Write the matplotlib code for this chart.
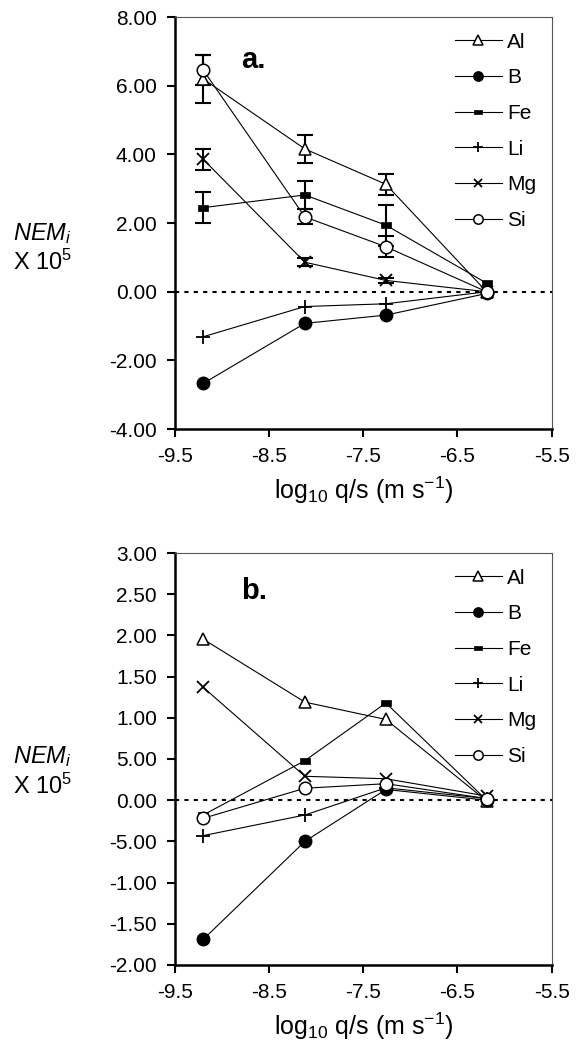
import numpy as np
import matplotlib
matplotlib.use("Agg")
import matplotlib.pyplot as plt

plt.rcParams['font.family'] = ['Liberation Sans', 'DejaVu Sans']
plt.rcParams['font.size'] = 15
plt.rcParams['mathtext.fontset'] = 'custom'
plt.rcParams['mathtext.rm'] = 'Liberation Sans'
plt.rcParams['mathtext.it'] = 'Liberation Sans:italic'

# x positions (log10 q/s)
x = [-9.2, -8.12, -7.26, -6.19]
elements = ['Al', 'B', 'Fe', 'Li', 'Mg', 'Si']

# panel a: NEM_i x 10^5
a_vals = {
    'Al': [6.20, 4.16, 3.13, 0.00],
    'B':  [-2.67, -0.92, -0.68, -0.05],
    'Fe': [2.45, 2.82, 1.94, 0.25],
    'Li': [-1.31, -0.43, -0.35, 0.00],
    'Mg': [3.86, 0.86, 0.33, 0.00],
    'Si': [6.46, 2.18, 1.31, 0.00],
}
# error bars for panel a (first three points)
a_err = {
    'Al': [0.70, 0.42, 0.30],
    'Fe': [0.45, 0.40, 0.60],
    'Mg': [0.30, 0.12, 0.08],
    'Si': [0.45, 0.22, 0.30],
}

# panel b
b_vals = {
    'Al': [1.955, 1.19, 0.98, -0.01],
    'B':  [-1.69, -0.50, 0.13, 0.00],
    'Fe': [-0.18, 0.48, 1.18, 0.00],
    'Li': [-0.43, -0.18, 0.15, 0.02],
    'Mg': [1.37, 0.29, 0.26, 0.05],
    'Si': [-0.22, 0.145, 0.20, 0.02],
}

a_yticks = [8, 6, 4, 2, 0, -2, -4]
a_yticklabels = ['8.00', '6.00', '4.00', '2.00', '0.00', '-2.00', '-4.00']
b_yticks = [3, 2.5, 2, 1.5, 1, 0.5, 0, -0.5, -1, -1.5, -2]
b_yticklabels = ['3.00', '2.50', '2.00', '1.50', '1.00', '5.00', '0.00',
                 '-5.00', '-1.00', '-1.50', '-2.00']
xticks = [-9.5, -8.5, -7.5, -6.5, -5.5]
xticklabels = ['-9.5', '-8.5', '-7.5', '-6.5', '-5.5']

# marker for Fe: small filled rectangle
fe_marker = [(-1, -0.55), (1, -0.55), (1, 0.55), (-1, 0.55), (-1, -0.55)]
styles = {
    'Al': dict(marker='^', mfc='white', ms=9, mew=1.1),
    'B':  dict(marker='o', mfc='black', ms=9, mew=1.0),
    'Fe': dict(marker=fe_marker, mfc='black', ms=7.5, mew=0.5),
    'Li': dict(marker='+', mfc='black', ms=10, mew=1.3),
    'Mg': dict(marker='x', mfc='black', ms=8.5, mew=1.3),
    'Si': dict(marker='o', mfc='white', ms=9, mew=1.1),
}

fig = plt.figure(figsize=(5.85, 10.44), dpi=100)
ax_a = fig.add_axes([0.299, 0.589, 0.644, 0.3946])
ax_b = fig.add_axes([0.299, 0.0757, 0.644, 0.3946])


def setup(ax, yticks, ylabels, ylim, tag, tag_y, lab_y):
    ax.set_xlim(-9.5, -5.5)
    ax.set_ylim(*ylim)
    ax.set_xticks(xticks)
    ax.set_xticklabels(xticklabels)
    ax.set_yticks(yticks)
    ax.set_yticklabels(ylabels)
    ax.axhline(0, color='black', ls=(0, (2, 2.5)), lw=1.5, zorder=1)
    for s in ['left', 'bottom']:
        ax.spines[s].set_linewidth(1.8)
    for s in ['top', 'right']:
        ax.spines[s].set_linewidth(0.8)
        ax.spines[s].set_color('#555555')
    ax.tick_params(direction='out', length=6, width=1.5, pad=7, labelsize=15)
    ax.set_xlabel(r'log$_{10}$ q/s (m s$^{-1}$)', fontsize=18, labelpad=6)
    ax.text(-8.8, tag_y, tag, fontsize=21, fontweight='bold',
            va='center', ha='left')
    ax.text(-0.43, lab_y, r'$NEM_i$' + '\n' + r'X 10$^5$', transform=ax.transAxes,
            fontsize=17, ha='left', va='center', linespacing=1.2)


setup(ax_a, a_yticks, a_yticklabels, (-4, 8), 'a.', 6.75, 0.44)
setup(ax_b, b_yticks, b_yticklabels, (-2, 3), 'b.', 2.54, 0.47)

for el in elements:
    st = styles[el]
    ax_a.plot(x, a_vals[el], color='black', lw=0.8, mec='black', label=el,
              zorder=3, **st)
    if el in a_err:
        ax_a.errorbar(x[:3], a_vals[el][:3], yerr=a_err[el], fmt='none',
                      ecolor='black', elinewidth=1.5, capsize=5.5, capthick=1.5,
                      zorder=2)
    ax_b.plot(x, b_vals[el], color='black', lw=0.8, mec='black', label=el,
              zorder=3, **st)

for ax in (ax_a, ax_b):
    ax.legend(loc='upper right', frameon=False, fontsize=15, handlelength=2.26,
              labelspacing=0.8, borderaxespad=0.35, handletextpad=0.25,
              markerscale=0.75)

fig.savefig('out.png', dpi=100)
